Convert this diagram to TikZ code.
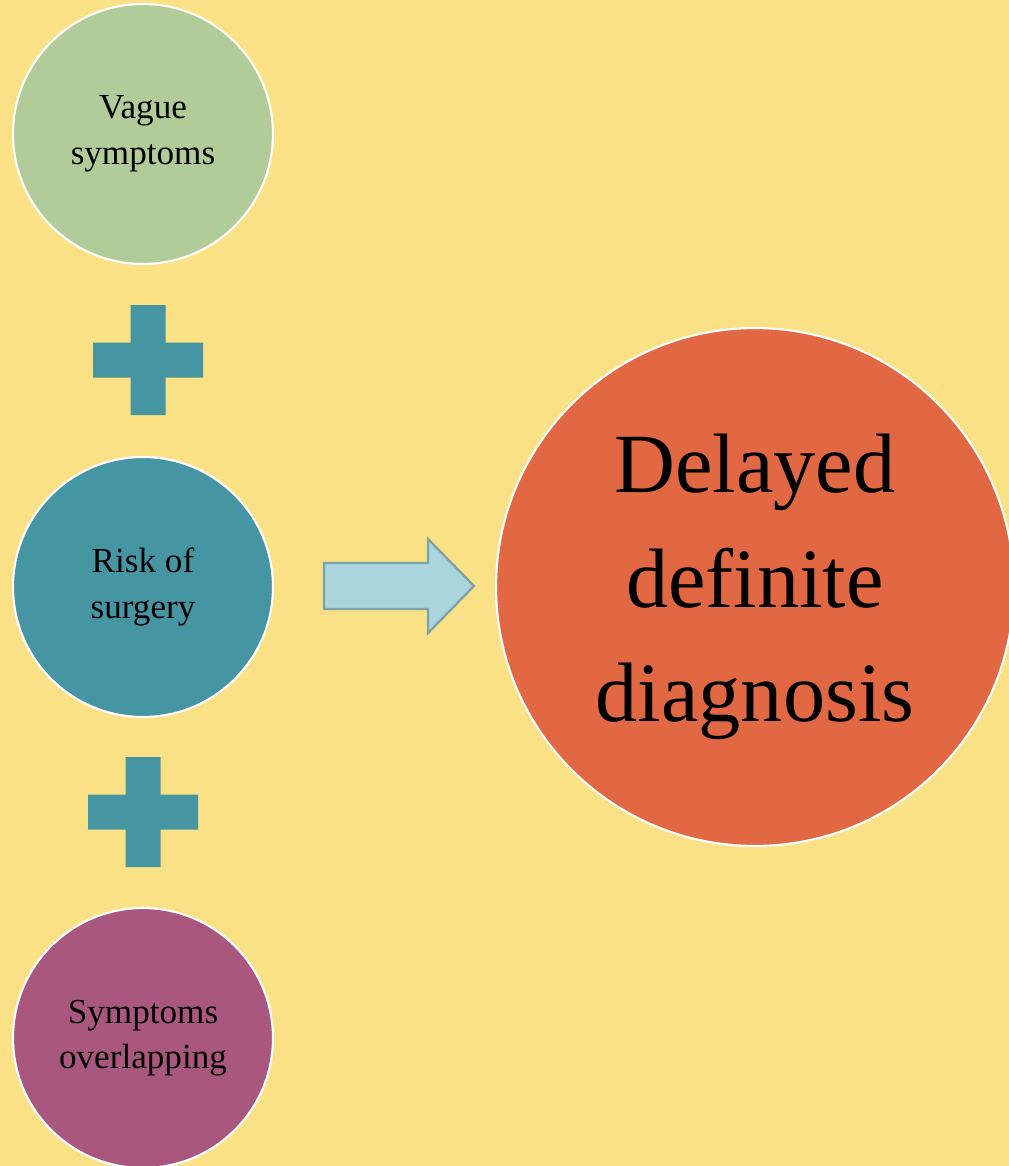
\documentclass[tikz,border=0pt]{standalone}
\usepackage{fontspec}
\setmainfont{Liberation Serif}
\usetikzlibrary{positioning}

\definecolor{bgyellow}{HTML}{FAE185}
\definecolor{causegreen}{HTML}{B1CB99}
\definecolor{causeteal}{HTML}{4695A3}
\definecolor{causeplum}{HTML}{A9577E}
\definecolor{effectred}{HTML}{E16843}
\definecolor{arrowblue}{HTML}{AAD5DC}
\definecolor{arrowedge}{HTML}{7DA3A9}

\begin{document}
\begin{tikzpicture}[
  x=0.02cm, y=-0.02cm,
  cause/.style={circle, draw=white, line width=1.2pt, minimum size=5.2cm, inner sep=0pt,
    align=center, font=\fontsize{20}{26}\selectfont},
  effect/.style={circle, draw=white, line width=1.2pt, minimum size=10.36cm, inner sep=0pt,
    align=center, fill=effectred, font=\fontsize{48}{65}\selectfont},
  plusbar/.style={fill=causeteal},
  flowarrow/.style={fill=arrowblue, draw=arrowedge, line width=1.3pt, line join=miter},
]

% Page size; everything below may spill past it
\useasboundingbox (0,0) rectangle (1008,1166);

\begin{scope}[overlay]
% Canvas
\fill[bgyellow] (-10,-10) rectangle (1018,1176);

% =========================
% Causes (left column)
% =========================
\node[cause, fill=causegreen] (vague)   at (143,134)  {Vague\\symptoms};
\node[cause, fill=causeteal]  (surgery) at (143,587)  {Risk of\\surgery};
\node[cause, fill=causeplum]  (overlap) at (143,1038) {Symptoms\\overlapping};

% plus signs between the causes
\coordinate (plusA) at (148,360);
\coordinate (plusB) at (143,812);
\foreach \p in {plusA,plusB} {
  \fill[plusbar, shift={(\p)}] (-55,-17.5) rectangle (55,17.5)
                               (-17.5,-55) rectangle (17.5,55);
}

% =========================
% Effect (right)
% =========================
\node[effect] (delay) at (755,587) {Delayed\\definite\\diagnosis};

% block arrow towards the effect
\coordinate (arrowtail) at (324,586);
\draw[flowarrow, shift={(arrowtail)}]
  (0,-23) -- (104,-23) -- (104,-47) -- (150,0) -- (104,47) -- (104,23) -- (0,23) -- cycle;
\end{scope}

\end{tikzpicture}
\end{document}
